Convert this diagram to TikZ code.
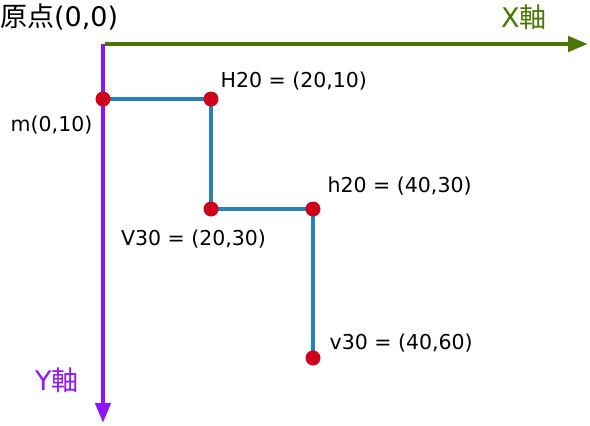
\documentclass[tikz,border=0pt]{standalone}
\usepackage{fontspec}
\setmainfont{DejaVu Sans}
\newfontfamily\jpfont{Noto Sans CJK JP}
\usetikzlibrary{arrows.meta,positioning}
\definecolor{axisgreen}{RGB}{72,120,0}
\definecolor{axispurple}{RGB}{144,19,254}
\definecolor{pathblue}{RGB}{41,128,185}
\definecolor{dotred}{RGB}{208,2,27}
\tikzset{
  dot/.style={circle,fill=dotred,inner sep=0pt,minimum size=15pt},
  seg/.style={draw=pathblue,line width=3.6pt},
  lbl/.style={font=\fontsize{20.5}{20.5}\selectfont,inner sep=0pt},
  biglbl/.style={font=\fontsize{27}{27}\selectfont,inner sep=0pt,anchor=base west},
  axis/.style={line width=4.4pt,-{Triangle[length=20pt,width=15pt]}},
}
\begin{document}
\begin{tikzpicture}[x=1pt,y=-1pt]
  \newcommand{\ox}{103}
  \newcommand{\oy}{44}
  \useasboundingbox (0,0) rectangle (590,426);
  % axes
  \coordinate (o) at (\ox,\oy);
  \coordinate (xend) at (588,\oy);
  \coordinate (yend) at (\ox,423);
  \draw[axis,axispurple] (o) -- (yend);
  \draw[axis,axisgreen] (\ox+2,\oy) -- (xend);
  \node[biglbl] (origin) at (0,26) {{\jpfont 原点}(0,0)};
  \node[biglbl,text=axisgreen] (xlabel) at (501,27) {X{\jpfont 軸}};
  \node[biglbl,text=axispurple] (ylabel) at (35,390) {Y{\jpfont 軸}};
  % path points
  \coordinate (pm) at (\ox,99);
  \coordinate (pH) at (211,99);
  \coordinate (pV) at (211,209);
  \coordinate (ph) at (313,209);
  \coordinate (pv) at (313,358);
  \draw[seg] (pm) -- (pH) -- (pV) -- (ph) -- (pv);
  \node[dot] (dm) at (pm) {};
  \node[dot] (dH) at (pH) {};
  \node[dot] (dV) at (pV) {};
  \node[dot] (dh) at (ph) {};
  \node[dot] (dv) at (pv) {};
  % labels
  \node[lbl,above right=3pt and 4pt of dH] (lH) {H20 = (20,10)};
  \node[lbl,below left=11pt and 5pt of dm] (lm) {m(0,10)};
  \node[lbl,above right=8pt and 9pt of dh] (lh) {h20 = (40,30)};
  \node[lbl,below=13pt of dV,xshift=-17.5pt] (lV) {V30 = (20,30)};
  \node[lbl,above right=0pt and 11pt of dv] (lv) {v30 = (40,60)};
\end{tikzpicture}
\end{document}
